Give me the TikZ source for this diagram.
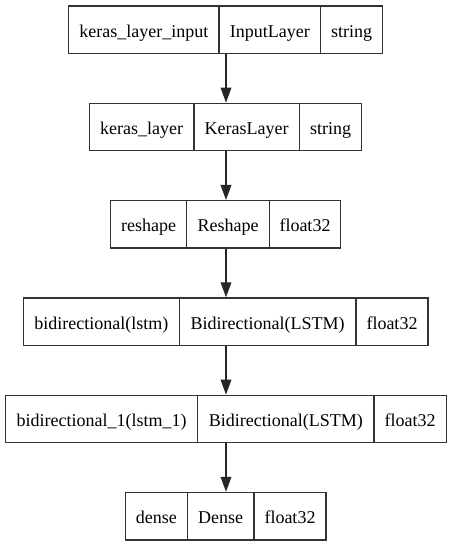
\documentclass[tikz,border=0pt]{standalone}
\usepackage{fontspec}
\setmainfont{Liberation Serif}
\usepackage{tikz}
\usetikzlibrary{arrows.meta,calc}
\tikzstyle{cell}=[rectangle, draw=black!80, line width=1.3, minimum height=47.5, inner sep=0pt, text height=15.2, text depth=0pt, font=\fontsize{18}{20}\selectfont]
\tikzstyle{l1}=[line width=1.3, draw=black!85]
\tikzstyle{arr}=[l1, -{Triangle[length=15, width=10.7]}]

\begin{document}
\begin{tikzpicture}[x=1pt, y=1pt]
    \useasboundingbox (0,0) rectangle (452,-547);
    \coordinate (ax) at (226,0);

    % input
    \node[cell, minimum width=150.3] at (143.85,-29.7) (in1) {keras\_layer\_input};
    \node[cell, minimum width=101.7] at (269.85,-29.7) (in2) {InputLayer};
    \node[cell, minimum width=62]    at (351.7,-29.7)  (in3) {string};

    % keras layer
    \node[cell, minimum width=104.7] at (141.65,-127) (kl1) {keras\_layer};
    \node[cell, minimum width=105.3] at (246.65,-127) (kl2) {KerasLayer};
    \node[cell, minimum width=62.4]  at (330.5,-127)  (kl3) {string};

    % reshape
    \node[cell, minimum width=76]   at (148.7,-224.35) (rs1) {reshape};
    \node[cell, minimum width=82.6] at (228,-224.35)   (rs2) {Reshape};
    \node[cell, minimum width=71.4] at (305,-224.35)   (rs3) {float32};

    % bidirectional
    \node[cell, minimum width=156]   at (101.3,-321.65)  (bd1) {bidirectional(lstm)};
    \node[cell, minimum width=176.7] at (267.65,-321.65) (bd2) {Bidirectional(LSTM)};
    \node[cell, minimum width=72]    at (392,-321.65)    (bd3) {float32};

    % bidirectional_1
    \node[cell, minimum width=192.4] at (101.5,-419)  (bi1) {bidirectional\_1(lstm\_1)};
    \node[cell, minimum width=176.3] at (285.85,-419) (bi2) {Bidirectional(LSTM)};
    \node[cell, minimum width=72.3]  at (410.15,-419) (bi3) {float32};

    % dense
    \node[cell, minimum width=62]   at (156.3,-516.15)  (de1) {dense};
    \node[cell, minimum width=66.7] at (220.65,-516.15) (de2) {Dense};
    \node[cell, minimum width=72]   at (290,-516.15)    (de3) {float32};

    \draw[arr] (in1.south -| ax) -- (kl2.north -| ax);
    \draw[arr] (kl2.south -| ax) -- (rs2.north -| ax);
    \draw[arr] (rs2.south -| ax) -- (bd1.north -| ax);
    \draw[arr] (bd1.south -| ax) -- (bi2.north -| ax);
    \draw[arr] (bi2.south -| ax) -- (de2.north -| ax);
\end{tikzpicture}
\end{document}
